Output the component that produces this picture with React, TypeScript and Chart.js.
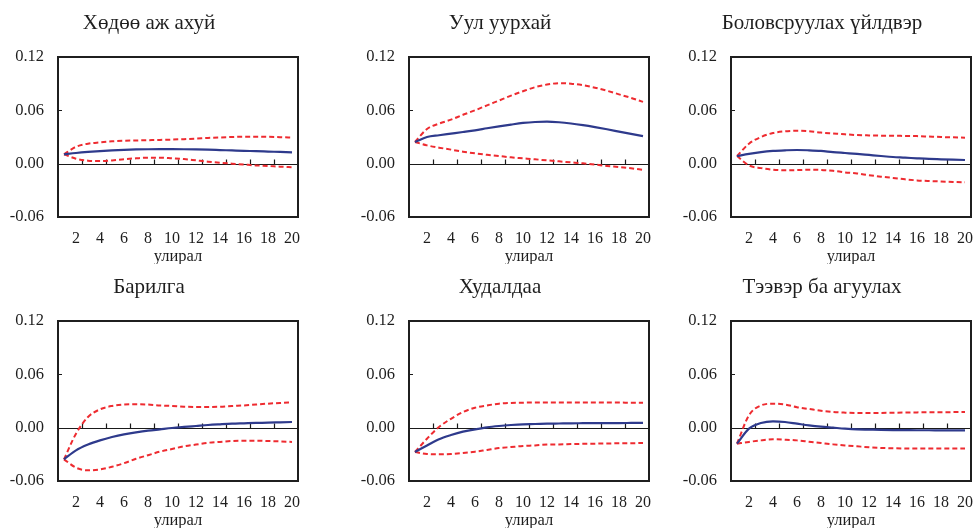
import React, { useEffect, useRef } from "react";
import { Chart, registerables } from "chart.js";

Chart.register(...registerables);

// ---- data ----
const periods = ["1", "2", "3", "4", "5", "6", "7", "8", "9", "10", "11", "12", "13", "14", "15", "16", "17", "18", "19", "20"];
const yTicks = [-0.06, 0, 0.06, 0.12];
const yTickLabels = ["-0.06", "0.00", "0.06", "0.12"];
const xAxisTitle = "улирал";

const panelTitles = ["Хөдөө аж ахуй", "Уул уурхай", "Боловсруулах үйлдвэр", "Барилга", "Худалдаа", "Тээвэр ба агуулах"];

const agriResp = [0.0105, 0.012, 0.0132, 0.0142, 0.015, 0.0156, 0.016, 0.0162, 0.0163, 0.0163, 0.0162, 0.016, 0.0157, 0.0153, 0.0149, 0.0145, 0.014, 0.0136, 0.0132, 0.0128];
const agriUpper = [0.0105, 0.019, 0.0225, 0.024, 0.0252, 0.0258, 0.0261, 0.0264, 0.0267, 0.0271, 0.0276, 0.0282, 0.0289, 0.0295, 0.03, 0.0303, 0.0304, 0.0302, 0.0298, 0.0293];
const agriLower = [0.0105, 0.0056, 0.0034, 0.003, 0.0037, 0.005, 0.006, 0.0067, 0.0067, 0.006, 0.0052, 0.0037, 0.0022, 0.001, 0.0, -0.001, -0.002, -0.0026, -0.0034, -0.004];

const miningResp = [0.0244, 0.03, 0.032, 0.0338, 0.0356, 0.0375, 0.0398, 0.042, 0.044, 0.0458, 0.0469, 0.0473, 0.0466, 0.0452, 0.0433, 0.0411, 0.0387, 0.0361, 0.0335, 0.031];
const miningUpper = [0.0244, 0.039, 0.045, 0.0495, 0.055, 0.06, 0.0656, 0.071, 0.0765, 0.0815, 0.086, 0.089, 0.0905, 0.09, 0.0882, 0.0855, 0.082, 0.078, 0.074, 0.0695];
const miningLower = [0.0244, 0.0206, 0.018, 0.0158, 0.0135, 0.0116, 0.01, 0.0086, 0.0071, 0.006, 0.0049, 0.0037, 0.0026, 0.0015, 0.0004, -0.001, -0.0026, -0.0038, -0.0052, -0.007];

const manufResp = [0.0086, 0.011, 0.013, 0.0143, 0.015, 0.0154, 0.015, 0.0143, 0.013, 0.012, 0.011, 0.0098, 0.0086, 0.0075, 0.0068, 0.006, 0.0053, 0.0049, 0.0045, 0.0041];
const manufUpper = [0.0086, 0.0225, 0.03, 0.0345, 0.0364, 0.037, 0.0364, 0.035, 0.034, 0.033, 0.0322, 0.0318, 0.0315, 0.0314, 0.0312, 0.031, 0.0305, 0.03, 0.0296, 0.0292];
const manufLower = [0.0086, -0.002, -0.005, -0.0068, -0.0075, -0.0072, -0.0068, -0.007, -0.008, -0.0098, -0.011, -0.013, -0.0146, -0.016, -0.0176, -0.0188, -0.0195, -0.02, -0.0206, -0.021];

const constrResp = [-0.0356, -0.0255, -0.019, -0.0143, -0.0105, -0.0075, -0.0053, -0.0034, -0.0019, -0.0004, 0.0008, 0.0019, 0.003, 0.0038, 0.0045, 0.0049, 0.0053, 0.0056, 0.006, 0.0064];
const constrUpper = [-0.0356, -0.0068, 0.012, 0.0206, 0.0244, 0.026, 0.0263, 0.026, 0.025, 0.0244, 0.0236, 0.0233, 0.0233, 0.0236, 0.0244, 0.025, 0.026, 0.027, 0.0278, 0.0285];
const constrLower = [-0.0356, -0.045, -0.048, -0.047, -0.044, -0.04, -0.035, -0.031, -0.027, -0.024, -0.021, -0.019, -0.017, -0.016, -0.015, -0.0146, -0.0146, -0.015, -0.0154, -0.016];

const tradeResp = [-0.0274, -0.02, -0.013, -0.0083, -0.0045, -0.0019, 0.0004, 0.0019, 0.003, 0.0038, 0.0041, 0.0045, 0.0047, 0.0049, 0.005, 0.0051, 0.0052, 0.0052, 0.0053, 0.0054];
const tradeUpper = [-0.0274, -0.0124, 0.0008, 0.01, 0.0176, 0.0225, 0.025, 0.027, 0.0278, 0.0281, 0.0283, 0.0284, 0.0284, 0.0284, 0.0283, 0.0283, 0.0282, 0.0282, 0.0281, 0.0281];
const tradeLower = [-0.0274, -0.0296, -0.03, -0.0296, -0.0285, -0.027, -0.025, -0.023, -0.0218, -0.0206, -0.02, -0.019, -0.0188, -0.0185, -0.0182, -0.018, -0.0178, -0.0176, -0.0175, -0.0173];

const transResp = [-0.018, -0.0011, 0.0053, 0.0071, 0.0064, 0.0045, 0.0026, 0.0011, 0.0, -0.0011, -0.0019, -0.0022, -0.0025, -0.0027, -0.0028, -0.0029, -0.0029, -0.003, -0.003, -0.003];
const transUpper = [-0.018, 0.014, 0.025, 0.027, 0.026, 0.023, 0.021, 0.019, 0.0176, 0.0169, 0.0165, 0.0165, 0.0166, 0.0168, 0.017, 0.0172, 0.0173, 0.0174, 0.0175, 0.0176];
const transLower = [-0.018, -0.016, -0.0143, -0.013, -0.0135, -0.0143, -0.0158, -0.0173, -0.0188, -0.02, -0.021, -0.022, -0.0228, -0.0232, -0.0234, -0.0235, -0.0235, -0.0235, -0.0235, -0.0235];

const panelSeries = [
  [agriResp, agriUpper, agriLower],
  [miningResp, miningUpper, miningLower],
  [manufResp, manufUpper, manufLower],
  [constrResp, constrUpper, constrLower],
  [tradeResp, tradeUpper, tradeLower],
  [transResp, transUpper, transLower],
];

// ---- styling ----
const FONT = "'Liberation Serif', 'Times New Roman', serif";
const TEXT = "#1e1e1e";
const BLUE = "#2e3a8c";
const RED = "#ee2b30";
const CANVAS_W = 314;
const CANVAS_H = 264;
const colLefts = [0, 351, 673];
const rowTops = [0, 264];

const framePlugin = {
  id: "irfFrame",
  beforeDatasetsDraw(chart: any) {
    const { ctx, chartArea: a, scales } = chart;
    const x = scales.x;
    const y = scales.y;
    ctx.save();
    ctx.strokeStyle = "#1a1a1a";
    ctx.lineWidth = 1.2;
    const y0 = Math.round(y.getPixelForValue(0)) + 0.5;
    ctx.beginPath();
    ctx.moveTo(a.left, y0);
    ctx.lineTo(a.right, y0);
    // tick marks on zero line at boundaries after even periods
    for (let i = 1; i < periods.length - 1; i += 2) {
      const px = Math.round((x.getPixelForValue(i) + x.getPixelForValue(i + 1)) / 2) + 0.5;
      ctx.moveTo(px, y0);
      ctx.lineTo(px, y0 - 5);
    }
    // y ticks inside
    yTicks.forEach((v) => {
      const py = Math.round(y.getPixelForValue(v)) + 0.5;
      ctx.moveTo(a.left, py);
      ctx.lineTo(a.left + 4, py);
    });
    ctx.stroke();
    ctx.restore();
  },
  afterDraw(chart: any) {
    const { ctx, chartArea: a } = chart;
    ctx.save();
    ctx.strokeStyle = "#1f1f1f";
    ctx.lineWidth = 2;
    ctx.strokeRect(Math.round(a.left), Math.round(a.top), Math.round(a.right - a.left), Math.round(a.bottom - a.top));
    ctx.restore();
  },
};

function Panel({ idx }: { idx: number }) {
  const ref = useRef<HTMLCanvasElement | null>(null);
  useEffect(() => {
    if (!ref.current) return;
    const [resp, upper, lower] = panelSeries[idx];
    const chart = new Chart(ref.current, {
      type: "line",
      data: {
        labels: periods,
        datasets: [
          {
            data: resp,
            borderColor: BLUE,
            borderWidth: 2.2,
            pointRadius: 0,
            cubicInterpolationMode: "monotone",
            fill: false,
          },
          {
            data: upper,
            borderColor: RED,
            borderWidth: 2,
            borderDash: [5, 3],
            pointRadius: 0,
            cubicInterpolationMode: "monotone",
            fill: false,
          },
          {
            data: lower,
            borderColor: RED,
            borderWidth: 2,
            borderDash: [5, 3],
            pointRadius: 0,
            cubicInterpolationMode: "monotone",
            fill: false,
          },
        ],
      },
      options: {
        animation: false,
        responsive: false,
        devicePixelRatio: 1,
        layout: { padding: { left: 0, right: 16, top: 0, bottom: 0 } },
        plugins: {
          legend: { display: false },
          tooltip: { enabled: false },
          title: {
            display: true,
            text: panelTitles[idx],
            color: TEXT,
            font: { family: FONT, size: 21, weight: "normal", lineHeight: 1.2 },
            padding: { top: 10.5, bottom: 21.3 },
          },
        },
        scales: {
          x: {
            type: "category",
            offset: true,
            grid: { display: false, drawTicks: false },
            border: { display: false },
            ticks: {
              autoSkip: false,
              maxRotation: 0,
              minRotation: 0,
              padding: 12,
              color: TEXT,
              font: { family: FONT, size: 16 },
              callback: (_v: any, i: number) => (i % 2 === 1 ? periods[i] : ""),
            },
            title: {
              display: true,
              text: xAxisTitle,
              color: TEXT,
              font: { family: FONT, size: 16.5 },
              padding: { top: 0, bottom: -3 },
            },
            afterFit: (s: any) => {
              s.height = 47;
            },
          },
          y: {
            type: "linear",
            min: -0.06,
            max: 0.12,
            grid: { display: false, drawTicks: false },
            border: { display: false },
            afterBuildTicks: (s: any) => {
              s.ticks = yTicks.map((v) => ({ value: v }));
            },
            ticks: {
              padding: 14,
              color: TEXT,
              font: { family: FONT, size: 16.5 },
              callback: (v: any) => {
                const k = yTicks.findIndex((t) => Math.abs(t - v) < 1e-9);
                return k >= 0 ? yTickLabels[k] : "";
              },
            },
            afterFit: (s: any) => {
              s.width = 58;
            },
          },
        },
      } as any,
      plugins: [framePlugin],
    });
    return () => chart.destroy();
  }, [idx]);
  const col = idx % 3;
  const row = Math.floor(idx / 3);
  return (
    <canvas
      ref={ref}
      width={CANVAS_W}
      height={CANVAS_H}
      style={{ position: "absolute", left: colLefts[col], top: rowTops[row], width: CANVAS_W, height: CANVAS_H }}
    />
  );
}

export default function App() {
  useEffect(() => {
    document.body.style.margin = "0";
    document.body.style.background = "#ffffff";
  }, []);
  return (
    <div style={{ position: "relative", width: 976, height: 528, overflow: "hidden", background: "#fff" }}>
      {panelTitles.map((_, i) => (
        <Panel key={i} idx={i} />
      ))}
    </div>
  );
}
